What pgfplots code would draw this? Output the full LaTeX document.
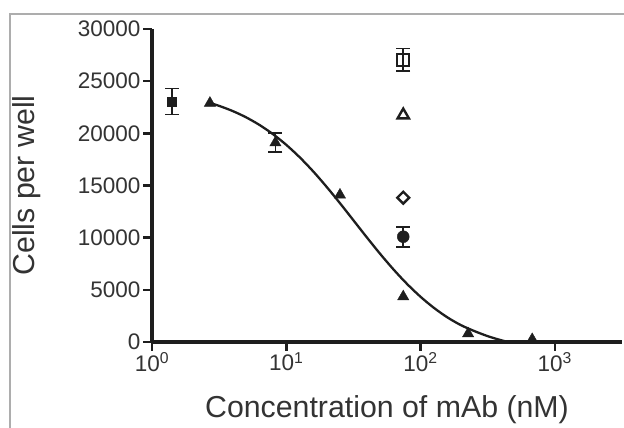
\documentclass[border=0pt]{standalone}
\usepackage{fontspec}
\setmainfont{Liberation Sans}
\usepackage{pgfplots}
\pgfplotsset{compat=1.18}

\definecolor{axisgray}{HTML}{1E1E1E}
\definecolor{textgray}{HTML}{333333}
\definecolor{framegray}{HTML}{ADADAD}

\begin{document}
\begin{tikzpicture}[x=1pt,y=1pt]
  \useasboundingbox (0,0) rectangle (624,428);
  % frame of the original figure panel
  \draw[framegray, line width=1.6pt] (10,0) -- (10,414) -- (626,414);

  \begin{axis}[
    at={(152pt,86pt)}, anchor=origin,
    scale only axis, width=470pt, height=313pt,
    xmode=log, xmin=1, xmax=3162,
    ymin=0, ymax=30000,
    axis lines*=left,
    separate axis lines,
    every outer x axis line/.append style={axisgray, line width=3.2pt},
    every outer y axis line/.append style={axisgray, line width=3.2pt},
    every tick/.style={axisgray, line width=2.6pt},
    major tick style={axisgray, line width=2.6pt},
    xtick style={axisgray, line width=2.6pt},
    ytick style={axisgray, line width=2.6pt},
    major tick length=9pt,
    tick align=outside,
    xminorticks=false, yminorticks=false,
    xtick={1,10,100,1000},
    xticklabels={10\textsuperscript{0},10\textsuperscript{1},10\textsuperscript{2},10\textsuperscript{3}},
    ytick={0,5000,...,30000},
    scaled y ticks=false,
    /pgf/number format/assume math mode=true,
    /pgf/number format/1000 sep={},
    tick label style={font=\fontsize{22.5}{25}\selectfont, text=textgray},
    xticklabel style={yshift=2pt},
    yticklabel style={xshift=1pt},
    xlabel={Concentration of mAb (nM)},
    ylabel={Cells per well},
    label style={font=\fontsize{30.3}{33}\selectfont, text=textgray},
    xlabel style={at={(axis description cs:0.5,0)}, anchor=base, yshift=-76pt},
    ylabel style={at={(axis description cs:-0.267,0.5)}, anchor=center},
    clip=true,
  ]
  % fitted dose-response curve
  \addplot[axisgray, line width=2.3pt, smooth, mark=none] coordinates {
    (2.69,22915) (3.162,22632) (3.981,22141) (5.012,21539) (6.310,20806)
    (7.943,19930) (10,18895) (12.59,17702) (15.85,16357) (19.95,14878)
    (25.12,13300) (31.62,11665) (39.81,10025) (50.12,8431) (63.10,6930)
    (79.43,5556) (100,4331) (125.9,3265) (158.5,2357) (199.5,1620)
    (251.2,1050) (316.2,560) (398.1,170) (501.2,-150)
  };
  % mAb dilution series (filled triangles)
  \addplot[only marks, mark=triangle*, mark size=6.5pt, color=axisgray]
    coordinates {
    (2.7,22900) (25.1,14100) (74.3,4350) (226,800) (678,250)
  };
  \addplot[only marks, mark=triangle*, mark size=6.5pt, color=axisgray,
    error bars/.cd, y dir=both, y explicit,
    error bar style={line width=1.8pt},
    error mark options={rotate=90, mark size=7pt, line width=1.8pt}]
    coordinates {(8.3,19100) +- (0,900)};
  % no antibody control (filled square)
  \addplot[only marks, mark=square*, mark size=4.5pt, color=axisgray,
    error bars/.cd, y dir=both, y explicit,
    error bar style={line width=1.8pt},
    error mark options={rotate=90, mark size=7pt, line width=1.8pt}]
    coordinates {(1.41,23050) +- (0,1250)};
  % open square
  \addplot[only marks, mark=square, mark size=6pt, color=axisgray,
    mark options={line width=1.8pt},
    error bars/.cd, y dir=both, y explicit,
    error bar style={line width=1.6pt},
    error mark options={rotate=90, mark size=7pt, line width=1.6pt}]
    coordinates {(74.3,27050) +- (0,1090)};
  % open triangle
  \addplot[only marks, mark=triangle, mark size=6.5pt, color=axisgray,
    mark options={line width=2.4pt}]
    coordinates {(74.3,21750)};
  % open diamond
  \addplot[only marks, mark=square, mark size=4.2pt, color=axisgray,
    mark options={rotate=45, line width=2.4pt}]
    coordinates {(74.3,13830)};
  % filled circle
  \addplot[only marks, mark=*, mark size=6pt, color=axisgray,
    error bars/.cd, y dir=both, y explicit,
    error bar style={line width=1.8pt},
    error mark options={rotate=90, mark size=7pt, line width=1.8pt}]
    coordinates {(74.3,10090) +- (0,960)};
  \end{axis}
\end{tikzpicture}
\end{document}
